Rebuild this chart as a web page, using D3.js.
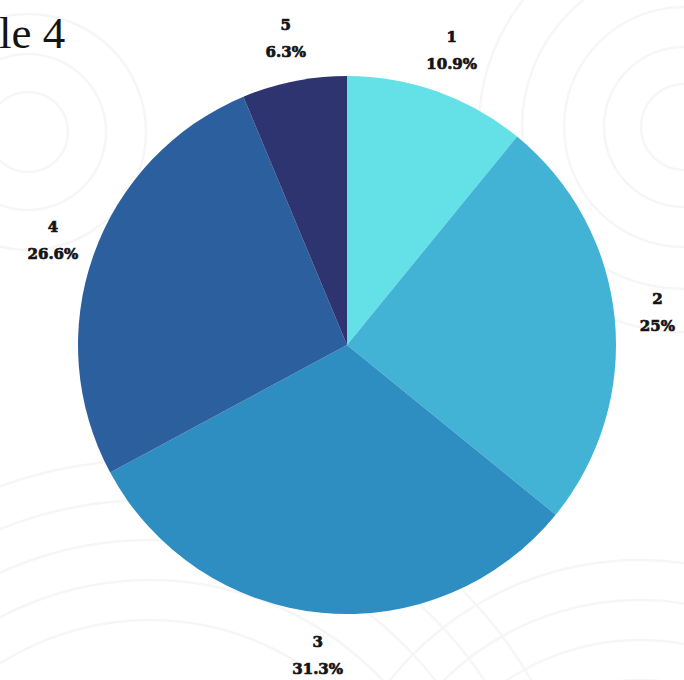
<!DOCTYPE html>
<html>
<head>
<meta charset="utf-8">
<script src="https://cdn.jsdelivr.net/npm/d3@7/dist/d3.min.js"></script>
<style>
  html, body { margin: 0; padding: 0; background: #ffffff; }
  svg { display: block; }
</style>
</head>
<body>
<div id="chart"></div>
<script>
// Share of responses per category (percent)
const categories = ["1", "2", "3", "4", "5"];
const shares = [10.9, 25, 31.3, 26.6, 6.3];
const shareLabels = ["10.9%", "25%", "31.3%", "26.6%", "6.3%"];
const sliceColors = ["#64e0e7", "#42b3d5", "#2e8dc1", "#2b5f9e", "#2e3470"];

const width = 684, height = 680;
const cx = 347, cy = 345, radius = 269, labelRadius = 312;

const svg = d3.select("#chart").append("svg")
  .attr("width", width)
  .attr("height", height);

// Faint decorative ring watermark behind the chart
const ringGroups = [
  { x: 684, y: 127, radii: [43, 80, 120, 162, 205] },
  { x: 28, y: 132, radii: [40, 78, 118] },
  { x: 150, y: 900, radii: [280, 320, 360, 400, 440] },
  { x: 640, y: 880, radii: [200, 240, 280, 320] }
];
const deco = svg.append("g").attr("fill", "none").attr("stroke", "#f6f6f6").attr("stroke-width", 2.5);
ringGroups.forEach(g => {
  deco.selectAll(null).data(g.radii).enter().append("circle")
    .attr("cx", g.x).attr("cy", g.y).attr("r", d => d);
});

const data = categories.map((c, i) => ({ name: c, value: shares[i], label: shareLabels[i], color: sliceColors[i] }));

const pie = d3.pie().value(d => d.value).sort(null);
const arc = d3.arc().innerRadius(0).outerRadius(radius);
const labelArc = d3.arc().innerRadius(labelRadius).outerRadius(labelRadius);

const g = svg.append("g").attr("transform", `translate(${cx},${cy})`);
const arcs = pie(data);

g.selectAll("path.slice").data(arcs).enter().append("path")
  .attr("class", "slice")
  .attr("d", arc)
  .attr("fill", d => d.data.color);

const labels = g.selectAll("g.lbl").data(arcs).enter().append("g")
  .attr("class", "lbl")
  .attr("transform", d => `translate(${labelArc.centroid(d)})`)
  .attr("font-family", "'DejaVu Serif', serif")
  .attr("font-weight", "bold")
  .attr("font-size", 15)
  .attr("fill", "#141414")
  .attr("stroke", "#141414")
  .attr("stroke-width", 0.7)
  .attr("text-anchor", "middle");

labels.append("text").attr("y", -9).text(d => d.data.name);
labels.append("text").attr("y", 18).text(d => d.data.label);

// Heading fragment at the top-left corner
svg.append("text")
  .attr("x", -1).attr("y", 48)
  .attr("font-family", "'Liberation Serif', serif")
  .attr("font-size", 45)
  .attr("fill", "#141414")
  .text("le 4");
</script>
</body>
</html>
